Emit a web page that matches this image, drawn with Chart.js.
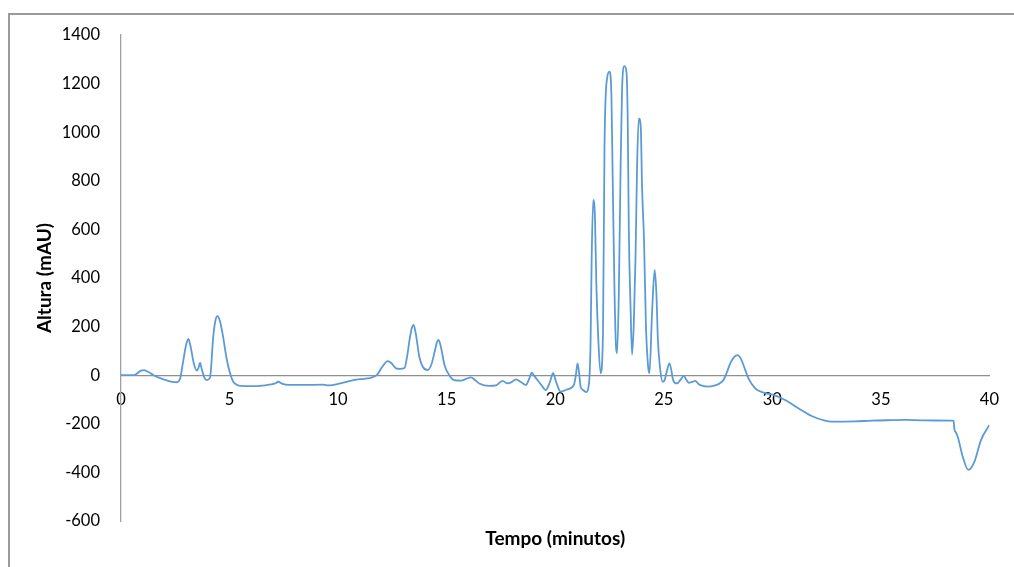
<!DOCTYPE html>
<html>
<head>
<meta charset="utf-8">
<script src="https://cdn.jsdelivr.net/npm/chart.js@4.4.1/dist/chart.umd.min.js"></script>
<style>
  html, body { margin: 0; padding: 0; background: #fff; width: 1014px; height: 567px; overflow: hidden; }
  #frame { position: absolute; left: 8px; top: 13px; width: 1020px; height: 600px; border-left: 2px solid #9a9a9a; border-top: 2px solid #9a9a9a; box-sizing: border-box; }
  #wrap { position: absolute; left: 0; top: 0; width: 1014px; height: 567px; }
</style>
</head>
<body>
<div id="frame"></div>
<div id="wrap"><canvas id="c" width="1014" height="567"></canvas></div>
<script>
// Tiempo (minutos)
const tiempo = [0, 0.6, 0.75, 0.9, 1.05, 1.2, 1.5, 1.8, 2.0, 2.3, 2.57, 2.72, 2.85, 3.0, 3.1, 3.2, 3.35, 3.49, 3.57, 3.64, 3.72, 3.85, 3.95, 4.1, 4.25, 4.35, 4.44, 4.55, 4.7, 4.85, 5.02, 5.17, 5.35, 5.5, 6.0, 6.4, 6.9, 7.1, 7.24, 7.45, 7.7, 8.5, 9.3, 9.6, 10.0, 10.4, 10.84, 11.2, 11.45, 11.6, 11.8, 12.0, 12.29, 12.45, 12.67, 12.85, 13.06, 13.2, 13.29, 13.4, 13.48, 13.58, 13.74, 13.9, 14.13, 14.3, 14.43, 14.55, 14.63, 14.75, 14.9, 15.12, 15.35, 15.66, 15.9, 16.12, 16.3, 16.5, 16.96, 17.27, 17.57, 17.8, 18.0, 18.19, 18.45, 18.65, 18.8, 18.92, 19.05, 19.18, 19.4, 19.56, 19.75, 19.9, 20.05, 20.25, 20.56, 20.86, 20.95, 21.03, 21.1, 21.17, 21.3, 21.43, 21.53, 21.58, 21.63, 21.68, 21.75, 21.83, 21.89, 21.98, 22.09, 22.2, 22.27, 22.39, 22.5, 22.59, 22.65, 22.73, 22.8, 22.85, 22.93, 23.01, 23.08, 23.19, 23.28, 23.34, 23.39, 23.47, 23.54, 23.62, 23.7, 23.77, 23.85, 23.94, 24.0, 24.09, 24.18, 24.28, 24.34, 24.46, 24.58, 24.66, 24.73, 24.84, 24.95, 25.04, 25.15, 25.26, 25.35, 25.43, 25.61, 25.8, 25.92, 26.05, 26.15, 26.3, 26.45, 26.6, 26.8, 27.06, 27.44, 27.6, 27.75, 27.9, 28.06, 28.25, 28.4, 28.55, 28.67, 28.9, 29.21, 29.59, 30.05, 30.59, 31.2, 31.81, 32.42, 32.73, 33.8, 34.56, 35.5, 36.1, 37.0, 38.24, 38.35, 38.39, 38.45, 38.54, 38.77, 39.03, 39.31, 39.61, 40.0];
// Altura (mAU)
const altura = [0, 0, 8, 18, 21, 16, 0, -12, -18, -26, -29, -15, 50, 125, 149, 120, 50, 19, 30, 52, 25, -12, -20, -10, 160, 225, 243, 225, 160, 75, 9, -27, -40, -44, -45, -44, -38, -34, -27, -36, -40, -40, -39, -42, -36, -27, -18, -15, -12, -8, 2, 30, 58, 50, 28, 26, 30, 90, 145, 195, 207, 170, 76, 35, 21, 45, 90, 135, 145, 110, 42, 0, -20, -22, -15, -9, -20, -34, -44, -42, -23, -34, -28, -17, -30, -40, -15, 10, -5, -20, -45, -61, -30, 8, -30, -68, -58, -40, 0, 49, 10, -47, -62, -70, -50, -6, 145, 488, 721, 652, 392, 158, 8, 172, 940, 1222, 1249, 1146, 790, 351, 117, 90, 337, 844, 1181, 1272, 1249, 1050, 597, 282, 85, 213, 488, 858, 1057, 1023, 776, 556, 200, 35, 8, 255, 433, 337, 145, 21, -27, -20, 20, 49, 20, -20, -34, -15, -3, -20, -31, -28, -23, -36, -44, -47, -40, -32, -20, 10, 49, 75, 83, 68, 42, -13, -54, -72, -81, -102, -136, -168, -187, -191, -190, -187, -185, -184, -186, -187, -188, -225, -235, -253, -335, -390, -356, -267, -205];

const xTicks = [0, 5, 10, 15, 20, 25, 30, 35, 40];
const yTicks = [-600, -400, -200, 0, 200, 400, 600, 800, 1000, 1200, 1400];
const xTitle = 'Tempo (minutos)';
const yTitle = 'Altura (mAU)';

const FONT = 'Lato, "Open Sans", sans-serif';
const points = tiempo.map((t, i) => ({ x: t, y: altura[i] }));
const plain = (v) => String(v);

new Chart(document.getElementById('c'), {
  type: 'line',
  data: {
    datasets: [{
      data: points,
      borderColor: '#5B9BD5',
      borderWidth: 1.8,
      pointRadius: 0,
      fill: false,
      cubicInterpolationMode: 'monotone'
    }]
  },
  options: {
    responsive: false,
    animation: false,
    events: [],
    layout: { padding: { left: 0, right: 21, top: 35, bottom: 0 } },
    plugins: {
      legend: { display: false },
      tooltip: { enabled: false },
      title: {
        display: true,
        text: xTitle,
        position: 'bottom',
        fullSize: false,
        color: '#000',
        font: { family: FONT, size: 19, weight: 'bold', lineHeight: 1.2 },
        padding: { top: 6.6, bottom: 16.6 }
      }
    },
    scales: {
      x: {
        type: 'linear',
        position: { y: 0 },
        min: xTicks[0],
        max: xTicks[xTicks.length - 1],
        afterBuildTicks: (s) => { s.ticks = xTicks.map(v => ({ value: v })); },
        grid: { display: false, drawTicks: false },
        border: { display: true, color: '#8f8f8f', width: 1.3 },
        ticks: { color: '#000', font: { family: FONT, size: 16.5 }, padding: 15, maxRotation: 0, autoSkip: false, callback: plain }
      },
      y: {
        type: 'linear',
        position: 'left',
        min: yTicks[0],
        max: yTicks[yTicks.length - 1],
        afterBuildTicks: (s) => { s.ticks = yTicks.map(v => ({ value: v })); },
        afterFit: (s) => { s.width = 121; },
        grid: { display: false, drawTicks: false },
        border: { display: true, color: '#a0a0a0', width: 1.3 },
        ticks: { color: '#000', font: { family: FONT, size: 16.5 }, padding: 21, callback: plain },
        title: {
          display: true,
          text: yTitle,
          color: '#000',
          font: { family: FONT, size: 19, weight: 'bold', lineHeight: 1.2 },
          padding: { top: 33.6, bottom: 0 }
        }
      }
    }
  }
});
</script>
</body>
</html>
